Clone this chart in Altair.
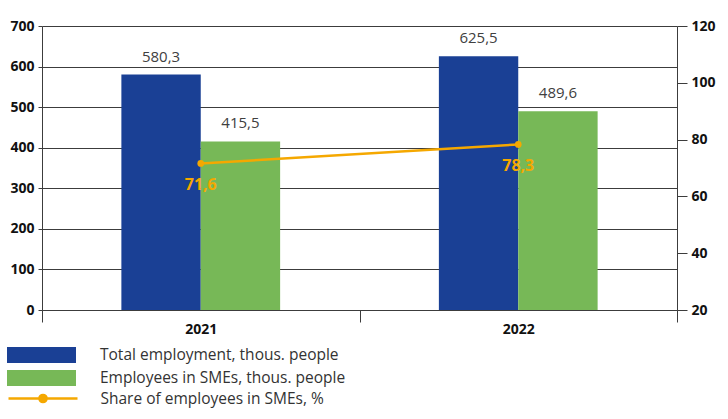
import altair as alt
import pandas as pd

years = ["2021", "2022"]
total_employment = [580.3, 625.5]
sme_employment = [415.5, 489.6]
sme_share = [71.6, 78.3]
bar_series = ["Total employment, thous. people", "Employees in SMEs, thous. people"]
line_series = "Share of employees in SMEs, %"
left_ticks = [0, 100, 200, 300, 400, 500, 600, 700]
right_ticks = [20, 40, 60, 80, 100, 120]

BLUE = "#1A4095"
GREEN = "#77B857"
ORANGE = "#F5A800"
FONT = "Open Sans"
GRID = "#3c3c3c"


def fmt(v):
    return f"{v:.1f}".replace(".", ",")


bar_rows = []
for i, yr in enumerate(years):
    for s, vals in zip(bar_series, [total_employment, sme_employment]):
        bar_rows.append({"year": yr, "series": s, "value": vals[i], "label": fmt(vals[i])})
bars_df = pd.DataFrame(bar_rows)
line_df = pd.DataFrame({
    "year": years,
    "share": sme_share,
    "label": [fmt(v) for v in sme_share],
    "series": [line_series] * len(years),
})

x_enc = alt.X(
    "year:N",
    scale=alt.Scale(domain=years, paddingInner=0, paddingOuter=0),
    axis=alt.Axis(title=None, labelAngle=0, tickBand="extent", tickSize=12, labelPadding=0,
                  labelFont=FONT, labelFontWeight="bold", labelFontSize=14, labelColor="#111",
                  domainColor=GRID, tickColor=GRID, grid=False),
)
xoff = alt.XOffset("series:N", scale=alt.Scale(domain=bar_series, paddingInner=0, paddingOuter=1))

y_left = alt.Y(
    "value:Q",
    scale=alt.Scale(domain=[0, 700], nice=False, zero=True),
    axis=alt.Axis(title=None, orient="left", values=left_ticks, grid=True, gridColor=GRID,
                  gridWidth=1, gridOpacity=1, tickSize=4, labelPadding=4, domainColor=GRID,
                  tickColor=GRID, labelFont=FONT, labelFontWeight="bold", labelFontSize=14,
                  labelColor="#111"),
)
y_right = alt.Y(
    "share:Q",
    scale=alt.Scale(domain=[20, 120], nice=False, zero=False),
    axis=alt.Axis(title=None, orient="right", values=right_ticks, grid=False, tickSize=10,
                  labelPadding=4, domainColor=GRID, tickColor=GRID, labelFont=FONT,
                  labelFontWeight="bold", labelFontSize=14, labelColor="#111"),
)

rect_path = "M-4.3125,-1H4.3125V1H-4.3125Z"
line_path = "M-4.3125,0H4.3125M0.45,0A0.45,0.45,0,1,1,-0.45,0A0.45,0.45,0,1,1,0.45,0Z"

bars = alt.Chart(bars_df).mark_bar().encode(
    x=x_enc,
    xOffset=xoff,
    y=y_left,
    color=alt.Color("series:N", scale=alt.Scale(domain=bar_series, range=[BLUE, GREEN]),
                    legend=alt.Legend(orient="none", legendX=-8.5, legendY=321, title=None,
                                      symbolType=rect_path, symbolSize=256, symbolStrokeWidth=0,
                                      symbolOpacity=1, labelOffset=50.5, rowPadding=6, padding=0,
                                      labelLimit=0, labelFont=FONT, labelFontSize=15.5,
                                      labelColor="#333", direction="vertical")),
)
bar_text = alt.Chart(bars_df).mark_text(
    dy=-10, baseline="bottom", font=FONT, fontSize=15, color="#404040"
).encode(
    x=x_enc, xOffset=xoff, y=y_left, text="label:N",
)

line = alt.Chart(line_df).mark_line(strokeWidth=2.5).encode(
    x=x_enc,
    y=y_right,
    stroke=alt.Stroke("series:N", scale=alt.Scale(domain=[line_series], range=[ORANGE]),
                      legend=alt.Legend(orient="none", legendX=-8.5, legendY=363, title=None,
                                        symbolType=line_path, symbolSize=256, symbolStrokeWidth=2.5,
                                        symbolFillColor=ORANGE, labelOffset=48, padding=0,
                                        labelLimit=0, labelFont=FONT, labelFontSize=15.5,
                                        labelColor="#333")),
)
points = alt.Chart(line_df).mark_point(filled=True, size=45, color=ORANGE, opacity=1).encode(
    x=x_enc, y=y_right,
)
line_text = alt.Chart(line_df).mark_text(
    dy=22, font=FONT, fontSize=16, fontWeight="bold", color=ORANGE
).encode(
    x=x_enc, y=y_right, text="label:N",
)

left = alt.layer(bars, bar_text)
right = alt.layer(line, points, line_text)

chart = alt.layer(left, right).resolve_scale(y="independent").properties(
    width=635, height=284,
    padding={"left": 42, "top": 26, "right": 51, "bottom": 109},
    autosize=alt.AutoSizeParams(type="none"),
).configure_view(stroke=None)

chart.save("out.html", embed_options={"renderer": "svg", "actions": False})
